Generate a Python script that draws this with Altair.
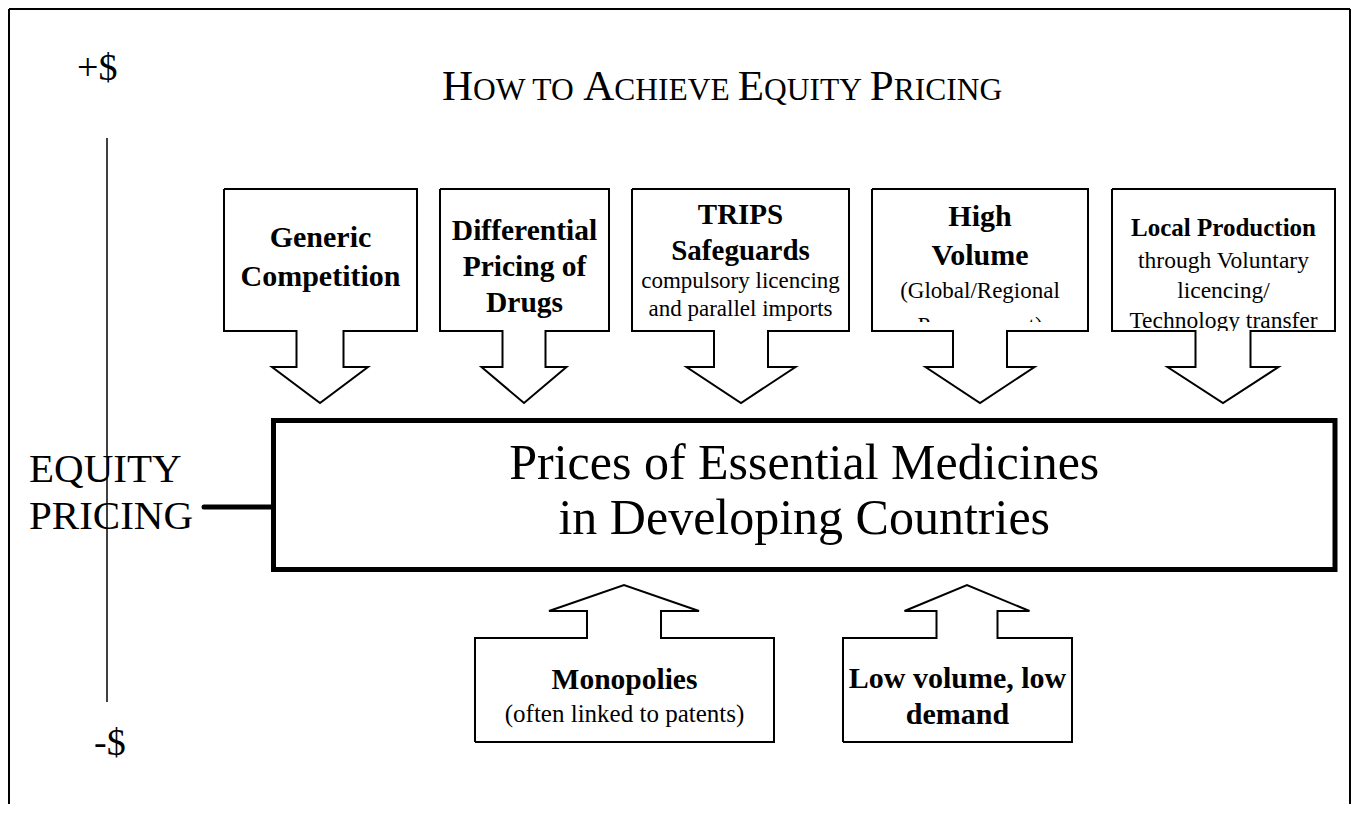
import altair as alt
import pandas as pd

FONT = "Liberation Serif"

# ---------------- content ----------------
title_parts = ["H", "OW TO ", "A", "CHIEVE ", "E", "QUITY ", "P", "RICING"]
title_is_cap = [True, False, True, False, True, False, True, False]

main_lines = ["Prices of Essential Medicines", "in Developing Countries"]
side_lines = ["EQUITY", "PRICING"]
axis_top_label = "+$"
axis_bottom_label = "-$"

# top (downward) callouts
down_text = ["Generic", "Competition",
             "Differential", "Pricing of", "Drugs",
             "TRIPS", "Safeguards", "compulsory licencing", "and parallel imports",
             "High", "Volume", "(Global/Regional", "Procurement)",
             "Local Production", "through Voluntary", "licencing/", "Technology transfer"]
down_box = [0, 0, 1, 1, 1, 2, 2, 2, 2, 3, 3, 3, 3, 4, 4, 4, 4]
down_bold = [1, 1, 1, 1, 1, 1, 1, 0, 0, 1, 1, 0, 0, 1, 0, 0, 0]
down_size = [30, 30, 29.5, 29.5, 29.5, 29, 29, 23, 23, 30, 30, 23, 23, 25, 23.5, 23.5, 23.5]
down_base = [247, 286, 240, 276, 312, 224, 260, 288, 316, 226, 265, 298, 333, 236, 268, 298, 328]

# bottom (upward) callouts
up_text = ["Monopolies", "(often linked to patents)", "Low volume, low", "demand"]
up_box = [0, 0, 1, 1]
up_bold = [1, 0, 1, 1]
up_size = [29.5, 25, 30, 30]
up_base = [689, 722, 688, 724]

# ---------------- geometry ----------------
down_left = [224, 440, 632, 872, 1112]
down_right = [417, 609, 849, 1088, 1335]
down_tip = [320, 524, 741, 980, 1223]
down_shaft = [23.5, 21.5, 27, 27, 27.5]
down_head = [48, 42.5, 54.5, 54.5, 55.5]
DOWN_TOP, DOWN_BOTTOM, DOWN_HEAD_Y, DOWN_TIP_Y = 189, 331, 367, 403

up_left = [475, 843]
up_right = [774, 1072]
up_tip = [624, 967]
up_shaft = [37, 30.5]
up_head = [75, 62.5]
UP_TIP_Y, UP_HEAD_Y, UP_TOP, UP_BOTTOM = 585, 611, 638, 742

MAIN_L, MAIN_R, MAIN_T, MAIN_B = 273.5, 1335, 420.5, 569.5

# ---------------- scales ----------------
X0, X1 = 8, 1351
Y0, Y1 = 8, 804
xs = alt.Scale(domain=[X0, X1], nice=False, zero=False)
ys = alt.Scale(domain=[Y0, Y1], nice=False, zero=False, reverse=True)


def X(f="x"):
    return alt.X(f + ":Q", scale=xs, axis=None)


def Y(f="y"):
    return alt.Y(f + ":Q", scale=ys, axis=None)


# ---------------- text tables ----------------
rows_c = []
for t, b, bold, s, y in zip(down_text, down_box, down_bold, down_size, down_base):
    cx = (down_left[b] + down_right[b]) / 2
    rows_c.append(dict(text=t, x=cx, y=y, size=s, bold=bold))
for t, b, bold, s, y in zip(up_text, up_box, up_bold, up_size, up_base):
    cx = (up_left[b] + up_right[b]) / 2
    rows_c.append(dict(text=t, x=cx, y=y, size=s, bold=bold))
main_cx = (MAIN_L + MAIN_R) / 2
for t, y in zip(main_lines, [479, 534]):
    rows_c.append(dict(text=t, x=main_cx, y=y, size=50, bold=0))
tc = pd.DataFrame(rows_c)

# left aligned regular text
CAP_W = {"H": 722, "O": 722, "W": 944, " ": 250, "T": 611, "A": 722, "C": 667,
         "I": 333, "E": 611, "V": 722, "Q": 722, "U": 722, "Y": 722, "P": 556,
         "R": 667, "N": 722, "G": 722}
rows_l = []
cur = 442.0
for part, cap in zip(title_parts, title_is_cap):
    s = 43 if cap else 31.5
    rows_l.append(dict(text=part, x=cur, y=100, size=s))
    cur += sum(CAP_W[c] for c in part) / 1000 * s
rows_l.append(dict(text=axis_top_label, x=77, y=80, size=38))
rows_l.append(dict(text=axis_bottom_label, x=94, y=755, size=38))
rows_l.append(dict(text=side_lines[0], x=29, y=482, size=41))
rows_l.append(dict(text=side_lines[1], x=29, y=529, size=41))
tl = pd.DataFrame(rows_l)


def text_layer(df, weight, align):
    return alt.Chart(df).mark_text(
        font=FONT, fontWeight=weight, align=align, baseline="alphabetic", color="black"
    ).encode(
        x=X(), y=Y(), text="text:N",
        size=alt.Size("size:Q", scale=None, legend=None),
    )


bold_layer = text_layer(tc[tc.bold == 1], "bold", "center")
reg_layer = text_layer(tc[tc.bold == 0], "normal", "center")
left_layer = text_layer(tl, "normal", "left")

# ---------------- clipping covers (text cut at box bottom) ----------------
cover = pd.DataFrame([
    dict(x=down_left[3] + 1.5, x2=down_right[3] - 1.5, y=322, y2=350),
    dict(x=down_left[4] + 1.5, x2=down_right[4] - 1.5, y=331, y2=350),
])
cover_layer = alt.Chart(cover).mark_rect(color="white").encode(
    x=X(), x2="x2:Q", y=Y(), y2="y2:Q")

# ---------------- callout outlines ----------------
pts = []
for i in range(5):
    L, R, c, sh, hh = down_left[i], down_right[i], down_tip[i], down_shaft[i], down_head[i]
    poly = [(L, DOWN_TOP), (R, DOWN_TOP), (R, DOWN_BOTTOM), (c + sh, DOWN_BOTTOM),
            (c + sh, DOWN_HEAD_Y), (c + hh, DOWN_HEAD_Y), (c, DOWN_TIP_Y),
            (c - hh, DOWN_HEAD_Y), (c - sh, DOWN_HEAD_Y), (c - sh, DOWN_BOTTOM),
            (L, DOWN_BOTTOM), (L, DOWN_TOP)]
    for k, (px, py) in enumerate(poly):
        pts.append(dict(id=f"d{i}", o=k, x=px, y=py))
for i in range(2):
    L, R, c, sh, hh = up_left[i], up_right[i], up_tip[i], up_shaft[i], up_head[i]
    poly = [(L, UP_BOTTOM), (L, UP_TOP), (c - sh, UP_TOP), (c - sh, UP_HEAD_Y),
            (c - hh, UP_HEAD_Y), (c, UP_TIP_Y), (c + hh, UP_HEAD_Y), (c + sh, UP_HEAD_Y),
            (c + sh, UP_TOP), (R, UP_TOP), (R, UP_BOTTOM), (L, UP_BOTTOM)]
    for k, (px, py) in enumerate(poly):
        pts.append(dict(id=f"u{i}", o=k, x=px, y=py))
outline = pd.DataFrame(pts)
outline_layer = alt.Chart(outline).mark_line(
    color="black", strokeWidth=2, strokeJoin="miter"
).encode(x=X(), y=Y(), order="o:Q", detail="id:N")

# ---------------- rules ----------------
rules = pd.DataFrame([
    dict(x=9, x2=9, y=9, y2=804, w=2),        # frame left
    dict(x=9, x2=1350, y=9, y2=9, w=2),       # frame top
    dict(x=1350, x2=1350, y=9, y2=804, w=2),  # frame right
    dict(x=107, x2=107, y=138, y2=702, w=1.5),  # price axis
])
rule_layer = alt.Chart(rules).mark_rule(color="black").encode(
    x=X(), x2="x2:Q", y=Y(), y2="y2:Q",
    strokeWidth=alt.StrokeWidth("w:Q", scale=None, legend=None))

conn = pd.DataFrame([dict(x=204, x2=MAIN_L, y=507, y2=507)])
conn_layer = alt.Chart(conn).mark_rule(color="black", strokeWidth=5, strokeCap="round").encode(
    x=X(), x2="x2:Q", y=Y(), y2="y2:Q")

main_box = pd.DataFrame([dict(x=MAIN_L, x2=MAIN_R, y=MAIN_T, y2=MAIN_B)])
main_layer = alt.Chart(main_box).mark_rect(
    fillOpacity=0, stroke="black", strokeWidth=5, strokeJoin="miter"
).encode(x=X(), x2="x2:Q", y=Y(), y2="y2:Q")

chart = alt.layer(
    bold_layer, reg_layer, left_layer, cover_layer, outline_layer,
    rule_layer, conn_layer, main_layer
).properties(
    width=X1 - X0, height=Y1 - Y0, padding=0,
    autosize=alt.AutoSizeParams(type="none"),
    background="white",
).configure_view(stroke=None)

chart.save("out.html", embed_options={"renderer": "svg", "actions": False})
